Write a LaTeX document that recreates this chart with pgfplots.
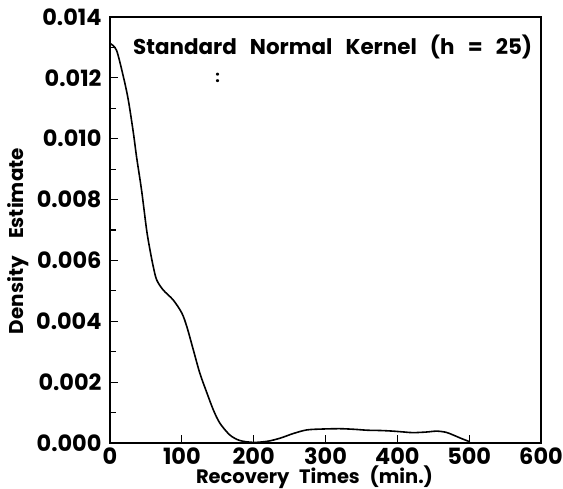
\documentclass[border=0pt]{standalone}
\usepackage{fontspec}
\setmainfont{Poppins}
\usepackage{pgfplots}
\pgfplotsset{compat=1.18}
\begin{document}
\begin{tikzpicture}
\begin{axis}[
  name=ax,
  scale only axis,
  width=431bp, height=426bp,
  xmin=0, xmax=600, ymin=0, ymax=0.014,
  xtick={0,100,...,600},
  ytick={0,0.002,...,0.014},
  minor y tick num=1,
  scaled y ticks=false,
  tick align=inside,
  xtick pos=bottom, ytick pos=left,
  major tick length=8bp, minor tick length=6bp,
  every tick/.style={line width=1.2pt, black},
  axis line style={line width=1.6pt},
  /pgf/number format/assume math mode=true,
  ticklabel style={font=\fontsize{22.5}{22.5}\selectfont\bfseries},
  yticklabel style={xshift=-5bp, /pgf/number format/.cd, fixed, fixed zerofill, precision=3},
  xticklabel style={yshift=-1bp},
  xlabel={\fontsize{19.5}{19.5}\selectfont\bfseries\makebox[237bp][s]{Recovery Times (min.)}},
  ylabel={\fontsize{20}{20}\selectfont\bfseries\makebox[186bp][s]{Density Estimate}},
  every axis x label/.style={at={(rel axis cs:0.4745,-0.080)}, anchor=center},
  every axis y label/.style={at={(rel axis cs:-0.213,0.474)}, anchor=center, rotate=90},
  clip=false,
]
\addplot[black, line width=1.6pt, smooth, tension=0.5] coordinates {
(0,0.01313) (9,0.01291) (18.6,0.01204) (25.5,0.01127) (32.5,0.0102) (37,0.0094) (44,0.0083)
(51,0.0070) (55.7,0.00634) (60.3,0.00579) (65,0.00536) (74,0.00503) (88,0.0047) (100,0.00427)
(107,0.00382) (116,0.00306) (125,0.0023) (135,0.00164) (144,0.00108)
(153,0.00065) (167,0.00026) (181,0.00008) (200,0.00002) (220,0.00006)
(237,0.00016) (255,0.00031) (274,0.00043) (297,0.00046) (320,0.00047) (340,0.00045)
(358,0.00042) (377,0.00041) (394,0.00039) (410,0.00036) (422,0.00034) (440,0.00036)
(455,0.00039) (468,0.00035) (478,0.00026) (490,0.00014) (501,0.00004)
};
\node[anchor=center, font=\fontsize{21.5}{21.5}\selectfont\bfseries] at (axis cs:310,0.01300) {\makebox[399bp][s]{Standard Normal Kernel (h = 25)}};
\node[anchor=center, font=\fontsize{16}{16}\selectfont\bfseries] at (axis cs:150,0.0120) {:};
\end{axis}
\pgfresetboundingbox
\path ([shift={(-110bp,-46bp)}]ax.south west) rectangle ([shift={(22bp,17bp)}]ax.north east);
\end{tikzpicture}
\end{document}
